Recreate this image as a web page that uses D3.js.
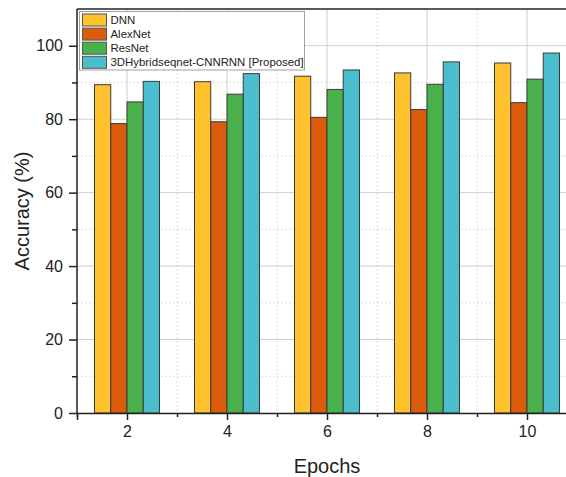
<!DOCTYPE html>
<html><head><meta charset="utf-8">
<script src="https://cdn.jsdelivr.net/npm/d3@7"></script>
<style>body{margin:0;background:#fff}svg{display:block;font-family:"Liberation Sans",Arial,sans-serif}</style>
</head><body>
<svg id="c" width="566" height="477"></svg>
<script>
const epochs = [2, 4, 6, 8, 10];
const seriesNames = ["DNN", "AlexNet", "ResNet", "3DHybridseqnet-CNNRNN [Proposed]"];
const dnn = [89.4, 90.2, 91.7, 92.6, 95.3];
const alexnet = [78.8, 79.3, 80.5, 82.6, 84.5];
const resnet = [84.7, 86.8, 88.1, 89.5, 90.9];
const proposed = [90.3, 92.4, 93.4, 95.6, 98.0];
const colors = ["#FFC12D", "#DB5C0B", "#49B04B", "#4BBECE"];
const yTicks = [0, 20, 40, 60, 80, 100];
const values = [dnn, alexnet, resnet, proposed];

const svg = d3.select("#c");
const L = 77, R = 577, T = 9, B = 413;
const x = d3.scaleLinear().domain([1, 11]).range([L, R]);
const y = d3.scaleLinear().domain([0, 110]).range([B, T]);
const groupW = x(2.65) - x(1.35);
const band = d3.scaleBand().domain(seriesNames).range([-groupW/2, groupW/2]).padding(0);

// grid
const g = svg.append("g");
const minorY = d3.range(10, 110, 20);
const minorX = d3.range(3, 11, 2);
g.selectAll(".gmy").data(minorY).join("line")
  .attr("x1", L).attr("x2", 566).attr("y1", d => y(d)).attr("y2", d => y(d))
  .attr("stroke", "#dcdcdc").attr("stroke-dasharray", "2,2").attr("stroke-width", 1);
g.selectAll(".gmx").data(minorX).join("line")
  .attr("x1", d => x(d)).attr("x2", d => x(d)).attr("y1", T).attr("y2", B)
  .attr("stroke", "#dcdcdc").attr("stroke-dasharray", "2,2").attr("stroke-width", 1);
g.selectAll(".gy").data(yTicks.filter(d => d > 0)).join("line")
  .attr("x1", L).attr("x2", 566).attr("y1", d => y(d)).attr("y2", d => y(d))
  .attr("stroke", "#cfcfcf").attr("stroke-width", 1);
g.selectAll(".gx").data(epochs).join("line")
  .attr("x1", d => x(d)).attr("x2", d => x(d)).attr("y1", T).attr("y2", B)
  .attr("stroke", "#cfcfcf").attr("stroke-width", 1);

// bars
seriesNames.forEach((name, si) => {
  svg.append("g").selectAll("rect").data(values[si]).join("rect")
    .attr("x", (d, i) => x(epochs[i]) + band(name))
    .attr("width", band.bandwidth())
    .attr("y", d => y(d))
    .attr("height", d => y(0) - y(d))
    .attr("fill", colors[si])
    .attr("stroke", "#3a3a3a").attr("stroke-width", 1);
});

// axes
const yAxis = svg.append("g").attr("transform", `translate(${L},0)`)
  .call(d3.axisLeft(y).tickValues(yTicks).tickSize(8).tickPadding(6).tickFormat(d3.format("d")));
const yMinor = svg.append("g").attr("transform", `translate(${L},0)`)
  .call(d3.axisLeft(y).tickValues(minorY).tickSize(5).tickFormat(""));
const xAxis = svg.append("g").attr("transform", `translate(0,${B})`)
  .call(d3.axisBottom(x).tickValues(epochs).tickSize(7).tickPadding(6).tickFormat(d3.format("d")));
const xMinor = svg.append("g").attr("transform", `translate(0,${B})`)
  .call(d3.axisBottom(x).tickValues([1, 3, 5, 7, 9]).tickSize(4).tickFormat(""));
[yAxis, yMinor, xAxis, xMinor].forEach(a => {
  a.selectAll("path").attr("stroke", "#222").attr("stroke-width", 1.5);
  a.selectAll("line").attr("stroke", "#222").attr("stroke-width", 1.5);
  a.selectAll("text").attr("fill", "#222").style("font-size", "16px").style("font-family", "Liberation Sans, Arial, sans-serif");
});
yAxis.select(".domain").attr("d", `M0,${B}V${T}`);
yMinor.select(".domain").remove();
xMinor.select(".domain").remove();
// top border
svg.append("line").attr("x1", L).attr("x2", 566).attr("y1", T).attr("y2", T)
  .attr("stroke", "#222").attr("stroke-width", 1.5);

// titles
svg.append("text").attr("x", (L + R) / 2).attr("y", 473).attr("text-anchor", "middle")
  .style("font-size", "20px").attr("fill", "#222").text("Epochs");
svg.append("text").attr("transform", `translate(29,${(T + B) / 2}) rotate(-90)`)
  .attr("text-anchor", "middle").style("font-size", "20px").attr("fill", "#222").text("Accuracy (%)");

// legend
const lg = svg.append("g");
lg.append("rect").attr("x", 79.5).attr("y", 11.5).attr("width", 225).attr("height", 58.5)
  .attr("fill", "#fff").attr("stroke", "#a0a0a0").attr("stroke-width", 1);
seriesNames.forEach((name, i) => {
  const cy = 20 + i * 14.1;
  lg.append("rect").attr("x", 82.5).attr("y", cy - 6).attr("width", 24).attr("height", 12)
    .attr("fill", colors[i]).attr("stroke", "#555").attr("stroke-width", 1);
  lg.append("text").attr("x", 110.5).attr("y", cy + 4).style("font-size", "11.4px")
    .attr("fill", "#222").text(name);
});
</script>
</body></html>
